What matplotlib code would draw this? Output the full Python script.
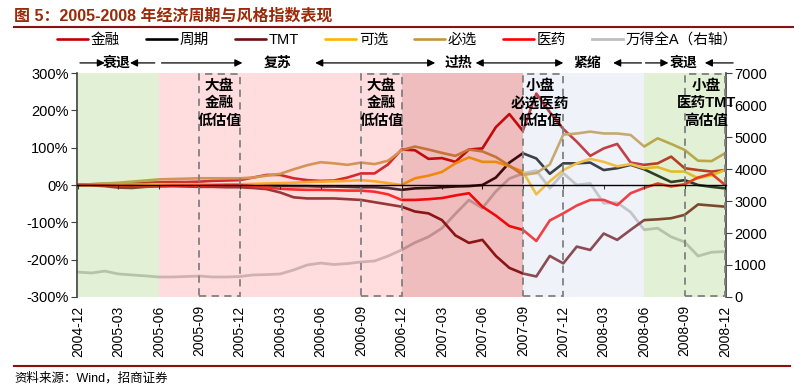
import numpy as np
import matplotlib
matplotlib.use('Agg')
from matplotlib import pyplot as plt
from matplotlib.lines import Line2D
from matplotlib.patches import Rectangle
from matplotlib.ticker import FuncFormatter

plt.rcParams['font.family'] = ['Liberation Sans', 'Noto Sans CJK SC']
plt.rcParams['axes.unicode_minus'] = False

# monthly data, 2004-12 .. 2008-12 (49 points), cumulative relative return in %
tick_labels = ['2004-12', '2005-03', '2005-06', '2005-09', '2005-12', '2006-03',
               '2006-06', '2006-09', '2006-12', '2007-03', '2007-06', '2007-09',
               '2007-12', '2008-03', '2008-06', '2008-09', '2008-12']

finance = [0, 2, 3, 4, 5, 6, 7, 8, 8, 9, 11, 12, 13, 20, 27, 27, 18, 13, 11, 12,
           20, 31, 31, 55, 95, 93, 70, 72, 62, 95, 98, 155, 190, 145, 245, 195,
           150, 116, 78, 98, 110, 60, 54, 58, 76, 45, 40, 36, 40]
cyclical = [0, 1, 0, -1, -2, -2, -3, -2, -2, -2, -3, -2, -1, 0, -1, -2, -3, -3,
            -4, -4, -5, -6, -6, -8, -13, -9, -8, -6, -4, -3, 0, 20, 60, 85, 71,
            30, 58, 58, 60, 40, 45, 54, 42, 25, 8, 13, 0, -5, -9]
tmt = [0, -1, -3, -7, -8, -5, -3, -3, -4, -5, -5, -6, -6, -8, -11, -20, -33,
       -36, -36, -36, -38, -40, -46, -52, -58, -71, -76, -94, -135, -155, -147,
       -190, -222, -237, -245, -190, -210, -165, -174, -130, -147, -120, -94,
       -92, -89, -80, -52, -55, -58]
discretionary = [0, 0, 1, 1, 1, 1, 2, 2, 2, 2, 2, 2, 2, 3, 4, 5, 6, 8, 9, 10, 11,
                 13, 10, 5, 0, 18, 25, 35, 58, 74, 62, 62, 50, 36, -25, 10, 40,
                 58, 70, 62, 50, 56, 45, 48, 36, 36, 18, 26, 40]
staples = [0, 2, 4, 6, 9, 12, 15, 16, 17, 18, 18, 18, 18, 20, 25, 30, 42, 53, 61,
           58, 54, 60, 56, 65, 93, 103, 95, 86, 78, 95, 90, 75, 52, 27, 32, 55,
           135, 138, 143, 138, 138, 134, 103, 125, 110, 94, 65, 64, 85]
pharma = [0, 0, -1, -2, -2, -3, -3, -2, -2, -2, -1, 0, 0, -3, -7, -10, -12, -13,
          -13, -14, -15, -15, -18, -25, -40, -40, -38, -35, -28, -22, -58, -82,
          -110, -120, -150, -95, -76, -55, -40, -40, -54, -22, -8, 4, -4, 2, 20,
          30, 0]
wind_a = [780, 750, 810, 720, 690, 660, 625, 625, 640, 655, 625, 625, 640, 690,
          700, 720, 845, 1000, 1060, 1015, 1045, 1095, 1125, 1280, 1470, 1700,
          1880, 2150, 2600, 3030, 2780, 3300, 3700, 3860, 3950, 3400, 3870, 3500,
          3550, 2930, 2950, 2650, 2100, 2150, 1880, 1720, 1280, 1400, 1420]

x = np.arange(len(finance))

fig = plt.figure(figsize=(7.94, 3.87), dpi=100)
ax = fig.add_axes([77 / 794, 1 - 297 / 387, 649 / 794, 224 / 387])
ax2 = ax.twinx()
ax.set_zorder(2)
ax2.set_zorder(1)
ax.patch.set_visible(False)

series = [
    ('金融', finance, '#C00000'),
    ('周期', cyclical, '#000000'),
    ('TMT', tmt, '#6E0F0F'),
    ('可选', discretionary, '#FFB400'),
    ('必选', staples, '#C4963C'),
    ('医药', pharma, '#FF0000'),
]
handles = []
for name, vals, col in series:
    ln, = ax.plot(x, vals, color=col, lw=1.9, label=name, zorder=1,
                  solid_capstyle='round')
    handles.append(ln)
gl, = ax2.plot(x, wind_a, color='#BEBEBE', lw=2, label='万得全A（右轴）')
handles.append(gl)

# phase backgrounds, drawn over the lines with transparency
spans = [(0, 6, '#A2D076'), (6, 24, '#FF9194'), (24, 33, '#CA2626'),
         (33, 42, '#CDD7EE'), (42, 48, '#A2D076')]
for a, b, c in spans:
    ax.axvspan(a, b, color=c, alpha=0.3, lw=0, zorder=2)

# dashed valuation boxes
for a in [9, 21, 33, 45]:
    ax.add_patch(Rectangle((a, -297), 3, 593, fill=False, ec='#808080',
                           ls=(0, (4, 3)), lw=1.3, zorder=3))

notes = [(10.5, ['大盘', '金融', '低估值']),
         (22.5, ['大盘', '金融', '低估值']),
         (34.3, ['小盘', '必选医药', '低估值']),
         (46.6, ['小盘', '医药TMT', '高估值'])]
for xc, lines in notes:
    for txt, yy in zip(lines, [0.94, 0.865, 0.785]):
        ax.text(xc, yy, txt, transform=ax.get_xaxis_transform(), ha='center',
                va='center', fontsize=10.5, fontweight='bold', zorder=5)

# phase labels with arrows above the plot
ya = 1.045
arrows = [(0.15, 2.0, '-|>'), (5.7, 3.86, '-|>'), (6.2, 12.2, '-|>'),
          (17.6, 26.5, '<|-|>'), (29.5, 36.0, '<|-|>'), (41.8, 39.7, '-|>'),
          (42.1, 43.8, '-|>'), (48.6, 46.5, '-|>')]
for x0, x1, st in arrows:
    ax.annotate('', xy=(x1, ya), xytext=(x0, ya),
                xycoords=('data', 'axes fraction'), annotation_clip=False,
                arrowprops=dict(arrowstyle=st, color='black', lw=0.9,
                                mutation_scale=11, shrinkA=0, shrinkB=0))
for xc, txt in [(2.9, '衰退'), (14.8, '复苏'), (28.2, '过热'), (37.8, '紧缩'),
                (44.9, '衰退')]:
    ax.text(xc, ya, txt, transform=ax.get_xaxis_transform(), ha='center',
            va='center', fontsize=10, fontweight='bold')

ax.set_xlim(-0.07, 48.07)
ax.set_ylim(-300, 300)
ax.set_yticks(range(-300, 301, 100))
ax.yaxis.set_major_formatter(FuncFormatter(lambda v, p: '{:.0f}%'.format(v)))
ax2.set_ylim(0, 7000)
ax2.set_yticks(range(0, 7001, 1000))

ax.spines['top'].set_visible(False)
ax2.spines['top'].set_visible(False)
ax2.spines['bottom'].set_visible(False)
ax2.spines['left'].set_visible(False)
ax.spines['right'].set_visible(False)
ax.spines['bottom'].set_position(('data', 0))
ax.spines['bottom'].set_zorder(4)
ax.spines['bottom'].set_linewidth(1)
for sp in [ax.spines['left'], ax2.spines['right']]:
    sp.set_color('#404040')
    sp.set_linewidth(1.2)
ax.set_xticks(range(0, 49, 3))
ax.tick_params(axis='x', direction='out', length=3, labelbottom=False)
ax.tick_params(axis='y', labelsize=10.5, length=4, color='#404040', pad=2)
ax2.tick_params(axis='y', labelsize=10.5, length=4, color='#404040', pad=2)

sec = ax.secondary_xaxis('bottom')
sec.set_xticks(range(0, 49, 3))
sec.set_xticklabels(tick_labels, rotation=90, fontsize=10)
sec.spines['bottom'].set_visible(False)
sec.tick_params(length=0, pad=6)

fig.legend(handles=handles, loc='center left', bbox_to_anchor=(57 / 794, 1 - 40 / 387),
           ncol=7, frameon=False, fontsize=10.5, handlelength=2.1,
           handletextpad=0.2, columnspacing=1.8, borderpad=0, borderaxespad=0)

fig.text(14 / 794, 1 - 16 / 387, '图 5：2005-2008 年经济周期与风格指数表现',
         fontsize=11.5, fontweight='bold', color='#9A2A0A', va='center')
fig.add_artist(Line2D([14 / 794, 1], [1 - 27 / 387] * 2, color='#8B1010', lw=1.5))
fig.add_artist(Line2D([14 / 794, 0.995], [1 - 366 / 387] * 2, color='#8B1010', lw=1.5))
fig.text(14 / 794, 1 - 378 / 387, '资料来源：Wind，招商证券', fontsize=9, va='center')

fig.savefig('out.png', dpi=100)
